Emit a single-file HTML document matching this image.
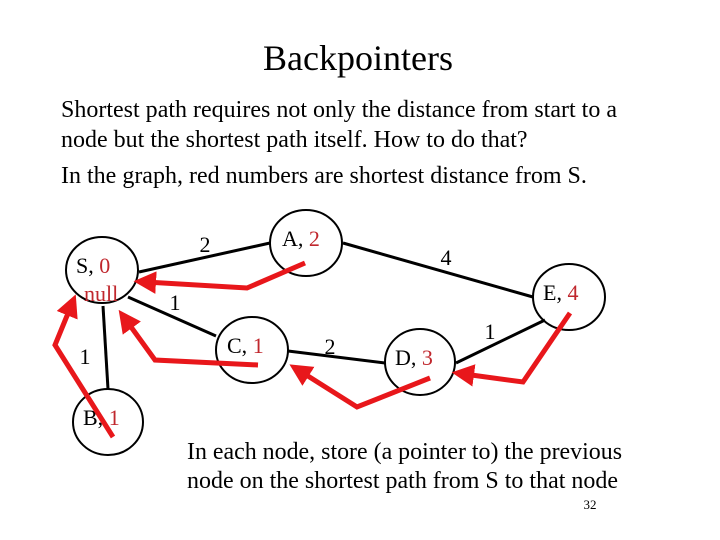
<!DOCTYPE html>
<html><head><style>
body{margin:0;background:#fff}
svg{display:block}
text{font-family:"Liberation Serif",serif}
</style></head><body>
<svg width="720" height="540" viewBox="0 0 720 540">
<defs><marker id="ah" markerWidth="4.5" markerHeight="4.5" refX="2" refY="2.25" orient="auto" markerUnits="strokeWidth"><path d="M0,0 L4.5,2.25 L0,4.5 Z" fill="#e8171b"/></marker></defs>
<text x="358" y="70" font-size="36" text-anchor="middle">Backpointers</text>
<text x="61" y="117" font-size="24" textLength="556" lengthAdjust="spacingAndGlyphs">Shortest path requires not only the distance from start to a</text>
<text x="61" y="147" font-size="24">node but the shortest path itself. How to do that?</text>
<text x="61" y="183" font-size="24">In the graph, red numbers are shortest distance from S.</text>
<g stroke="#000" stroke-width="3">
<line x1="139" y1="272" x2="270" y2="243"/>
<line x1="128" y1="297" x2="216" y2="336"/>
<line x1="103" y1="306" x2="108" y2="389"/>
<line x1="343" y1="243" x2="533" y2="297"/>
<line x1="288" y1="351" x2="385" y2="363"/>
<line x1="456" y1="363" x2="545" y2="320"/>
</g>
<g fill="none" stroke="#000" stroke-width="2">
<ellipse cx="102" cy="270" rx="36" ry="33"/>
<ellipse cx="306" cy="243" rx="36" ry="33"/>
<ellipse cx="252" cy="350" rx="36" ry="33"/>
<ellipse cx="108" cy="422" rx="35" ry="33"/>
<ellipse cx="569" cy="297" rx="36" ry="33"/>
<ellipse cx="420" cy="362" rx="35" ry="33"/>
</g>
<g font-size="22">
<text x="205" y="252" text-anchor="middle">2</text>
<text x="175" y="310" text-anchor="middle">1</text>
<text x="85" y="364" text-anchor="middle">1</text>
<text x="330" y="354" text-anchor="middle">2</text>
<text x="446" y="265" text-anchor="middle">4</text>
<text x="490" y="339" text-anchor="middle">1</text>
<text x="76" y="273">S, <tspan fill="#c0272d">0</tspan></text>
<text x="84" y="301" fill="#c0272d">null</text>
<text x="282" y="246">A, <tspan fill="#c0272d">2</tspan></text>
<text x="227" y="353">C, <tspan fill="#c0272d">1</tspan></text>
<text x="83" y="425">B, <tspan fill="#c0272d">1</tspan></text>
<text x="543" y="300">E, <tspan fill="#c0272d">4</tspan></text>
<text x="395" y="365">D, <tspan fill="#c0272d">3</tspan></text>
</g>
<g fill="none" stroke="#e8171b" stroke-width="5" stroke-linejoin="miter" marker-end="url(#ah)">
<polyline points="305,263 247,288 146,282"/>
<polyline points="258,365 155,360 126,320"/>
<polyline points="113,437 55,345 71,306"/>
<polyline points="430,378 357,407 300,371"/>
<polyline points="570,313 523,382 464,374"/>
</g>
<text x="187" y="459" font-size="24" textLength="435" lengthAdjust="spacingAndGlyphs">In each node, store (a pointer to) the previous</text>
<text x="187" y="488" font-size="24" textLength="431" lengthAdjust="spacingAndGlyphs">node on the shortest path from S to that node</text>
<text x="590" y="509" font-size="13" text-anchor="middle">32</text>
</svg>
</body></html>
